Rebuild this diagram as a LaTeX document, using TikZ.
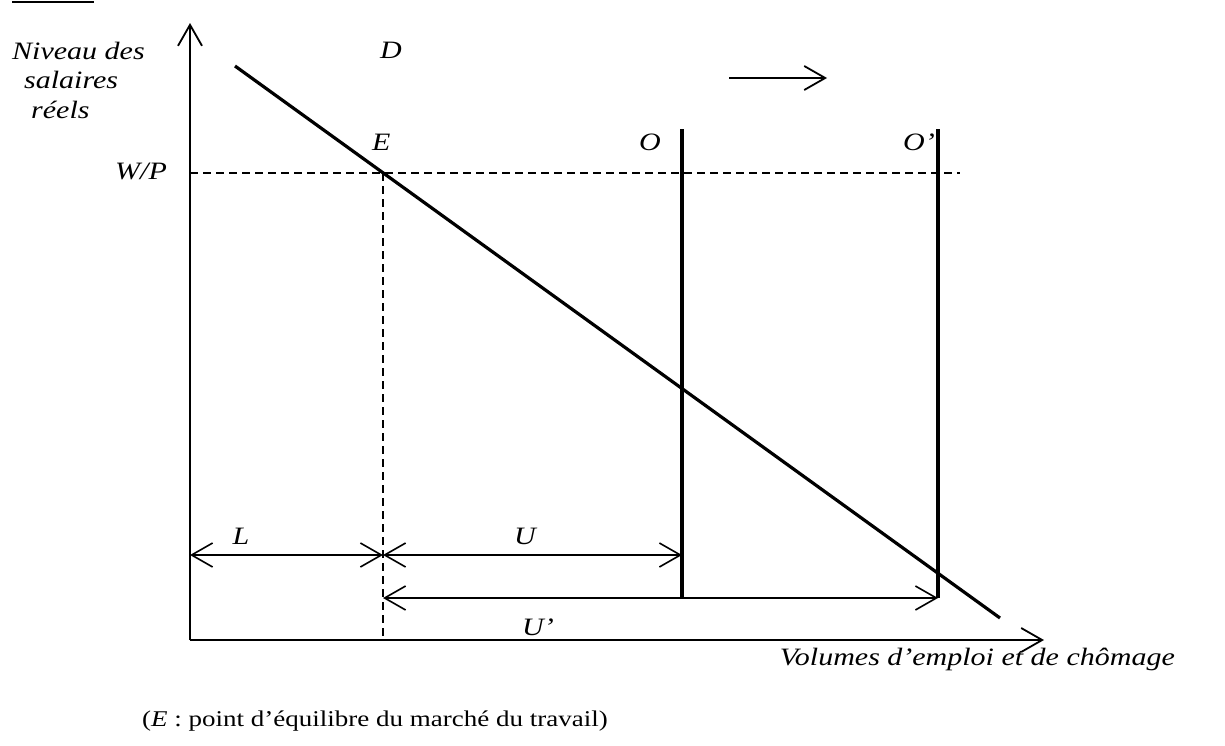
\documentclass[tikz,border=0pt]{standalone}
\usepackage{fontspec}
\setmainfont{Liberation Serif}[FakeStretch=1.2]
\usetikzlibrary{arrows.meta}
\begin{document}
\begin{tikzpicture}[x=1pt,y=-1pt,
  lbl/.style={font=\fontsize{25}{29}\selectfont\itshape, inner sep=0pt, anchor=base west},
  lblc/.style={font=\fontsize{25}{29}\selectfont\itshape, inner sep=0pt, anchor=base},
  barb/.tip={Straight Barb[length=21pt,width=24pt]},
  axisline/.style={line width=1.8pt, -barb},
  dimline/.style={line width=1.6pt, barb-barb},
  heavy/.style={line width=3.2pt},
  guide/.style={line width=1.4pt, dash pattern=on 8pt off 5pt}]
\useasboundingbox (0,0) rectangle (1225,745);
% cut-off heading underline
\coordinate (H1) at (12,2); \coordinate (H2) at (94,2);
\draw[line width=2pt] (H1) -- (H2);
% key points
\coordinate (O0) at (190,640);
\coordinate (Ytop) at (190,23);
\coordinate (Xend) at (1044,640);
\coordinate (D1) at (235,66);
\coordinate (D2) at (1000,618);
\coordinate (E) at (383,173);
\coordinate (Wl) at (190,173);
\coordinate (Wr) at (960,173);
\coordinate (Eb) at (383,640);
\coordinate (Ot) at (682,129);
\coordinate (Ob) at (682,598);
\coordinate (Pt) at (938,129);
\coordinate (Pb) at (938,598);
\coordinate (A1) at (729,78);
\coordinate (A2) at (827,78);
\coordinate (La) at (190,555);
\coordinate (Lb) at (383,555);
\coordinate (Ub) at (682,555);
\coordinate (Ua) at (383,598);
% guides
\draw[guide] (Wl) -- (Wr);
\draw[guide] (E) -- (Eb);
% axes
\draw[axisline] (O0) -- (Ytop);
\draw[axisline] (O0) -- (Xend);
% demand and supply
\draw[heavy] (D1) -- (D2);
\draw[heavy] (Ot) -- (Ob);
\draw[heavy] (Pt) -- (Pb);
% shift arrow
\draw[line width=1.8pt, -barb] (A1) -- (A2);
% dimension arrows
\draw[dimline] (La) -- (Lb);
\draw[dimline] (Lb) -- (Ub);
\draw[dimline] (Ua) -- (Pb);
% labels
\node[lbl] (n1) at (12,59) {Niveau des};
\node[lbl] (n2) at (24,88) {salaires};
\node[lbl] (n3) at (31,118) {réels};
\node[lbl] (wp) at (115,179) {W/P};
\node[lbl] (le) at (372,150) {E};
\node[lbl] (ld) at (380,58) {D};
\node[lbl] (lo) at (639,150) {O};
\node[lbl] (lo2) at (903,150) {O’};
\node[lblc] (ll) at (241,544) {L};
\node[lblc] (lu) at (525,544) {U};
\node[lblc] (lu2) at (538,635) {U’};
\node[lbl, anchor=base east] (vol) at (1175,665) {Volumes d’emploi et de chômage};
\node[font=\fontsize{22.5}{26}\selectfont, inner sep=0pt, anchor=base east] (cap) at (608,726) {(\textit{E} : point d’équilibre du marché du travail)};
\end{tikzpicture}
\end{document}
